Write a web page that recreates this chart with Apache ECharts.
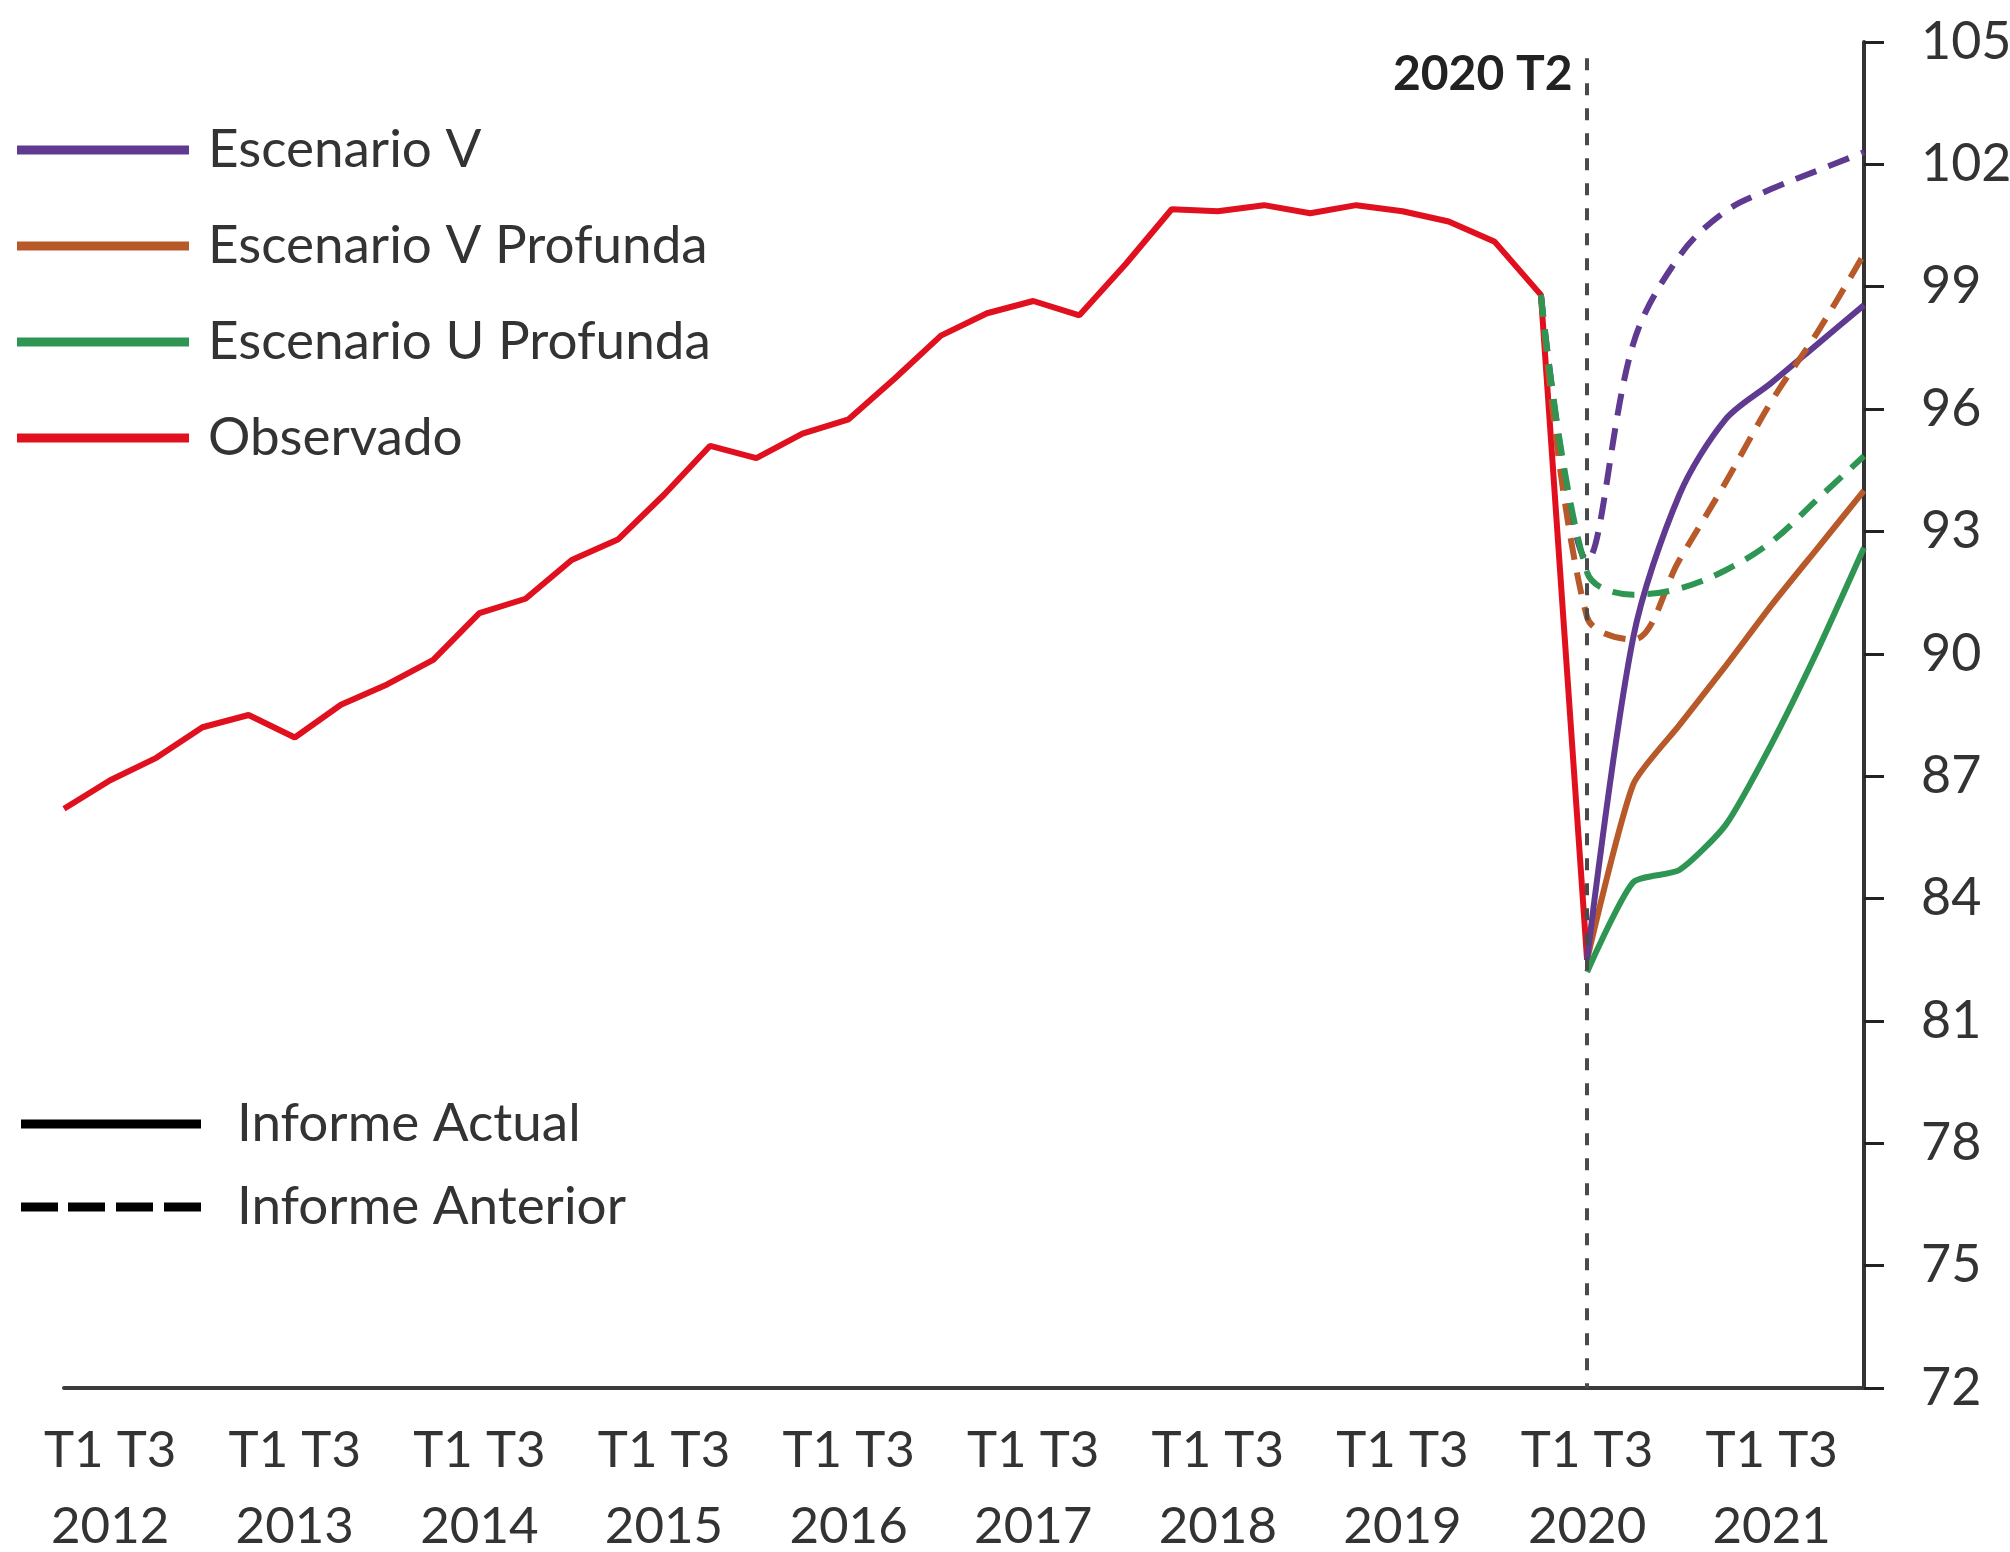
<!DOCTYPE html>
<html><head><meta charset="utf-8">
<script src="https://cdn.jsdelivr.net/npm/echarts@6/dist/echarts.min.js"></script>
<style>html,body{margin:0;padding:0;background:#fff}#c{width:2010px;height:1552px}</style>
</head><body><div id="c"></div>
<script>
// ---- data ----
const years = ['2012','2013','2014','2015','2016','2017','2018','2019','2020','2021'];
const quarters = ['T1','T2','T3','T4'];
const tickQuarterText = 'T1 T3';
const markerCategory = '2020 T2';
const markerText = '2020 T2';
const markerLabelValue = 104.2;
const markerLineTop = 104.6;

// Observado: 2012 T1 .. 2020 T2
const observado = [86.2, 86.9, 87.45, 88.2, 88.5, 87.95, 88.75, 89.25, 89.85, 91.0,
  91.35, 92.3, 92.8, 93.9, 95.1, 94.8, 95.4, 95.75, 96.75, 97.8,
  98.35, 98.65, 98.3, 99.55, 100.9, 100.85, 101.0, 100.8, 101.0, 100.85,
  100.6, 100.1, 98.8, 82.5];

// Informe Actual: 2020 T2 .. 2021 T4
const escVActual  = [82.5, 90.4, 93.9, 95.75, 96.65, 97.6, 98.55];
const escVPActual = [82.5, 86.8, 88.25, 89.7, 91.2, 92.6, 94.0];
const escUPActual = [82.2, 84.4, 84.7, 85.8, 87.8, 90.1, 92.6];
const actualStart = '2020 T2';

// Informe Anterior: 2020 T1 .. 2021 T4
const escVAnterior  = [98.8, 92.3, 97.6, 99.75, 100.85, 101.4, 101.85, 102.3];
const escVPAnterior = [98.8, 90.9, 90.35, 92.3, 94.2, 96.2, 97.9, 99.8];
const escUPAnterior = [98.8, 92.0, 91.45, 91.6, 92.05, 92.75, 93.8, 94.85];
const anteriorStart = '2020 T1';

const seriesNames = ['Escenario V', 'Escenario V Profunda', 'Escenario U Profunda', 'Observado'];
const reportNames = ['Informe Actual', 'Informe Anterior'];

// ---- build ----
const categories = [];
years.forEach(y => quarters.forEach(q => categories.push(y + ' ' + q)));
function place(arr, start) {
  const off = categories.indexOf(start);
  const out = categories.map(() => null);
  arr.forEach((v, i) => { out[off + i] = v; });
  return out;
}
const colors = {
  'Escenario V': '#5f3a90',
  'Escenario V Profunda': '#b8592a',
  'Escenario U Profunda': '#2e9552',
  'Observado': '#e0101e'
};
const FONT = 'Lato, "Open Sans", sans-serif';
const LW = 6;
const dashPat = [22, 13];

function lineSeries(name, data, color, dashed, extra) {
  return Object.assign({
    name: name,
    type: 'line',
    data: data,
    symbol: 'none',
    smooth: dashed ? 0.35 : 0,
    connectNulls: false,
    lineStyle: { color: color, width: LW, type: dashed ? dashPat : 'solid' },
    itemStyle: { color: color },
    emphasis: { disabled: true },
    z: dashed ? 4 : 3
  }, extra || {});
}

const series = [
  lineSeries('Observado', place(observado, '2012 T1'), colors['Observado'], false, {
    z: 2,
    markLine: {
      silent: true, symbol: 'none',
      lineStyle: { color: '#4a4a4a', width: 4, type: [12, 13] },
      label: { show: false },
      data: [[{ coord: [markerCategory, markerLineTop] }, { coord: [markerCategory, 72] }]]
    },
    markPoint: {
      silent: true,
      symbol: 'circle', symbolSize: 1,
      itemStyle: { color: 'rgba(0,0,0,0)' },
      label: { show: true, position: 'left', distance: 14, formatter: markerText,
        fontFamily: FONT, fontWeight: 'bold', fontSize: 48, color: '#222' },
      data: [{ coord: [markerCategory, markerLabelValue] }]
    }
  }),
  lineSeries('Escenario V Profunda', place(escVPActual, actualStart), colors['Escenario V Profunda'], false, { smooth: 0.2 }),
  lineSeries('Escenario V', place(escVActual, actualStart), colors['Escenario V'], false, { smooth: 0.3 }),
  lineSeries('Escenario U Profunda', place(escUPActual, actualStart), colors['Escenario U Profunda'], false, { smooth: 0.2 }),
  lineSeries('Escenario V (Informe Anterior)', place(escVAnterior, anteriorStart), colors['Escenario V'], true),
  lineSeries('Escenario V Profunda (Informe Anterior)', place(escVPAnterior, anteriorStart), colors['Escenario V Profunda'], true),
  lineSeries('Escenario U Profunda (Informe Anterior)', place(escUPAnterior, anteriorStart), colors['Escenario U Profunda'], true),
  lineSeries(reportNames[0], [], '#000', false),
  lineSeries(reportNames[1], [], '#000', true)
];

const chart = echarts.init(document.getElementById('c'), null, { renderer: 'canvas' });
chart.setOption({
  animation: false,
  backgroundColor: '#fff',
  grid: { left: 64, right: 146, top: 42, bottom: 164, containLabel: false, outerBoundsMode: 'none' },
  legend: [
    {
      data: seriesNames,
      orient: 'vertical', left: 17, top: 120, padding: 0,
      icon: 'rect', itemWidth: 172, itemHeight: 9, itemGap: 36,
      selectedMode: false,
      textStyle: { fontFamily: FONT, fontSize: 53, lineHeight: 60, color: '#333', padding: [0, 0, 0, 14] }
    },
    {
      data: [
        { name: reportNames[0], icon: 'rect' },
        { name: reportNames[1], icon: 'path://M0,0H37V9H0Z M47,0H84V9H47Z M95,0H132V9H95Z M143,0H180V9H143Z' }
      ],
      orient: 'vertical', left: 21, top: 1094, padding: 0,
      itemWidth: 180, itemHeight: 9, itemGap: 23,
      selectedMode: false,
      textStyle: { fontFamily: FONT, fontSize: 53, lineHeight: 60, color: '#333', padding: [0, 0, 0, 31] }
    }
  ],
  xAxis: {
    type: 'category',
    data: categories,
    boundaryGap: false,
    axisLine: { show: true, lineStyle: { color: '#3a3a3a', width: 4 } },
    axisTick: { show: false },
    splitLine: { show: false },
    axisLabel: {
      interval: 0,
      margin: 25,
      fontFamily: FONT, fontSize: 51, lineHeight: 76, color: '#333',
      formatter: function (val) {
        const parts = val.split(' ');
        return parts[1] === quarters[1] ? tickQuarterText + '\n' + parts[0] : '';
      }
    }
  },
  yAxis: {
    type: 'value',
    position: 'right',
    min: 72, max: 105, interval: 3,
    axisLine: { show: true, lineStyle: { color: '#333', width: 4 } },
    axisTick: { show: true, length: 20, lineStyle: { color: '#222', width: 3 } },
    splitLine: { show: false },
    axisLabel: { margin: 57, fontFamily: FONT, fontSize: 52, color: '#333', align: 'left' }
  },
  series: series
});
</script>
</body></html>
